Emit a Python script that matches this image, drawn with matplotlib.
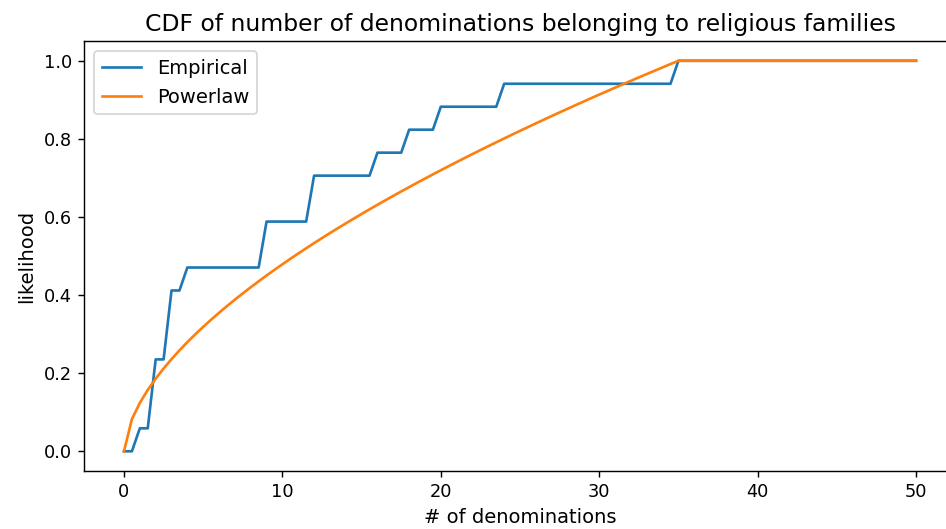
import numpy as np
import matplotlib
matplotlib.use("Agg")
import matplotlib.pyplot as plt

# number of denominations in each religious family (read from the step heights)
family_sizes = [1, 2, 2, 2, 3, 3, 3, 4, 9, 9, 12, 12, 16, 18, 20, 24, 35]

x_grid = np.linspace(0, 50, 101)

sizes = np.array(family_sizes, dtype=float)
empirical = np.array([(sizes <= x).mean() for x in x_grid])

# powerlaw fit on [0, max] (MLE for the shape)
xmax = sizes.max()
a = len(sizes) / -np.log(sizes / xmax).sum()
powerlaw = np.clip(x_grid / xmax, 0, 1) ** a

plt.rcParams["font.size"] = 11
plt.rcParams["xtick.labelsize"] = 10
plt.rcParams["ytick.labelsize"] = 10

dpi = 128
fig = plt.figure(figsize=(946 / dpi, 529 / dpi), dpi=dpi)
ax = fig.add_axes([0.0892, 0.110, 0.921, 0.812])

ax.plot(x_grid, empirical, label="Empirical")
ax.plot(x_grid, powerlaw, label="Powerlaw")

ax.set_title("CDF of number of denominations belonging to religious families")
ax.set_xlabel("# of denominations")
ax.set_ylabel("likelihood")
ax.legend(loc="upper left")
ax.spines["right"].set_visible(False)

fig.savefig("out.png", dpi=dpi)
